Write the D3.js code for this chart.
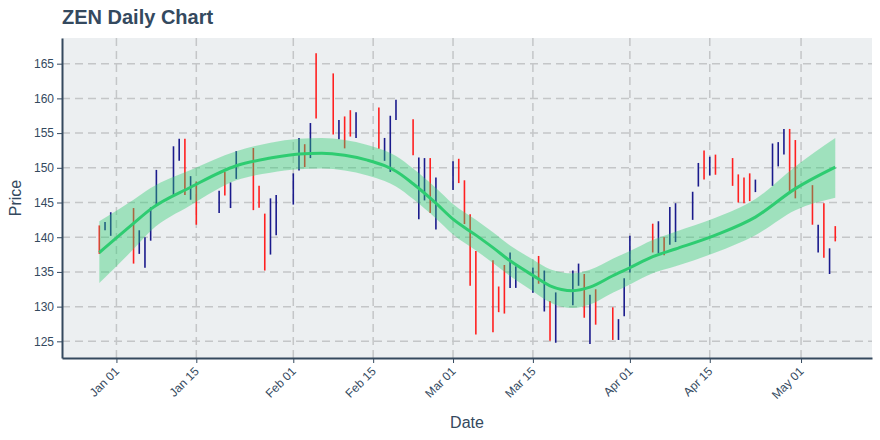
<!DOCTYPE html>
<html>
<head>
<meta charset="utf-8">
<script src="https://cdn.jsdelivr.net/npm/d3@7"></script>
<style>
  html, body { margin: 0; padding: 0; background: #ffffff; }
  svg { display: block; }
  text { font-family: "Liberation Sans", Arial, sans-serif; }
</style>
</head>
<body>
<svg id="chart" width="880" height="440"></svg>
<script>
// ---------- DATA ----------
const dates = [
  "2020-12-29","2020-12-30","2020-12-31",
  "2021-01-04","2021-01-05","2021-01-06","2021-01-07","2021-01-08",
  "2021-01-11","2021-01-12","2021-01-13","2021-01-14","2021-01-15",
  "2021-01-19","2021-01-20","2021-01-21","2021-01-22",
  "2021-01-25","2021-01-26","2021-01-27","2021-01-28","2021-01-29",
  "2021-02-01","2021-02-02","2021-02-03","2021-02-04","2021-02-05",
  "2021-02-08","2021-02-09","2021-02-10","2021-02-11","2021-02-12",
  "2021-02-16","2021-02-17","2021-02-18","2021-02-19",
  "2021-02-22","2021-02-23","2021-02-24","2021-02-25","2021-02-26",
  "2021-03-01","2021-03-02","2021-03-03","2021-03-04","2021-03-05",
  "2021-03-08","2021-03-09","2021-03-10","2021-03-11","2021-03-12",
  "2021-03-15","2021-03-16","2021-03-17","2021-03-18","2021-03-19",
  "2021-03-22","2021-03-23","2021-03-24","2021-03-25","2021-03-26",
  "2021-03-29","2021-03-30","2021-03-31","2021-04-01",
  "2021-04-05","2021-04-06","2021-04-07","2021-04-08","2021-04-09",
  "2021-04-12","2021-04-13","2021-04-14","2021-04-15","2021-04-16",
  "2021-04-19","2021-04-20","2021-04-21","2021-04-22","2021-04-23",
  "2021-04-26","2021-04-27","2021-04-28","2021-04-29","2021-04-30",
  "2021-05-03","2021-05-04","2021-05-05","2021-05-06","2021-05-07"
];
const opens = [
  141.7,141.0,140.2,
  144.2,137.6,135.6,139.5,144.5,
  146.1,151.0,154.2,145.4,148.0,
  143.5,149.4,144.2,148.4,
  152.85,147.4,143.4,137.5,140.3,
  144.7,149.6,153.4,151.4,166.5,
  163.6,154.1,157.4,158.3,154.3,
  158.7,151.0,149.4,156.9,
  157.0,142.6,145.3,151.4,141.1,
  146.8,151.3,148.2,143.3,138.0,
  136.7,132.9,136.0,132.7,132.7,
  132.0,137.3,129.3,130.8,124.8,
  130.2,133.0,134.7,124.6,132.5,
  129.9,125.2,128.6,134.9,
  141.95,137.7,140.0,138.9,139.3,
  142.5,147.3,152.5,148.9,151.9,
  151.4,149.05,148.6,149.2,146.5,
  147.4,150.2,151.9,155.6,154.0,
  147.5,137.8,144.9,134.7,141.6
];
const closes = [
  137.6,142.2,143.6,
  136.2,141.0,140.0,144.3,149.7,
  153.1,154.2,146.1,148.8,141.8,
  146.7,146.0,147.9,152.4,
  143.9,144.25,135.2,145.6,146.1,
  149.2,154.3,150.1,156.45,157.1,
  154.8,156.9,152.8,154.5,158.0,
  152.75,154.3,157.5,159.8,
  151.8,151.5,151.4,143.5,148.6,
  150.95,147.8,141.9,133.0,126.0,
  126.3,129.2,129.0,137.8,135.8,
  135.65,133.3,135.2,125.1,132.05,
  135.2,136.2,128.4,131.7,127.4,
  125.2,128.2,134.1,140.2,
  137.8,142.3,137.4,144.35,144.9,
  146.55,150.7,148.3,151.6,149.0,
  147.4,145.0,144.9,145.2,148.3,
  153.5,153.7,155.6,146.6,145.6,
  141.8,141.8,137.05,138.4,139.4
];

// smoothed trend and its band
const trendDates = [
  "2020-12-29","2021-01-04","2021-01-07","2021-01-14","2021-01-22","2021-01-28",
  "2021-02-02","2021-02-06","2021-02-10","2021-02-14","2021-02-17","2021-02-19",
  "2021-02-22","2021-02-26","2021-03-01","2021-03-05","2021-03-08","2021-03-11",
  "2021-03-15","2021-03-18","2021-03-22","2021-03-25","2021-03-29","2021-04-01",
  "2021-04-05","2021-04-09","2021-04-16","2021-04-23","2021-04-30","2021-05-07"
];
const trendMid = [
  137.8,142.0,144.05,147.2,150.3,151.4,
  152.0,152.1,151.8,151.1,150.3,149.5,
  147.7,144.9,142.6,140.3,138.5,136.6,
  134.5,133.0,132.3,132.8,134.45,135.6,
  137.2,138.3,140.3,142.9,147.0,150.1
];
const trendUpper = [
  142.3,145.4,147.1,149.7,152.4,153.6,
  154.2,154.3,154.0,153.3,152.5,151.7,
  149.9,147.1,144.8,142.5,140.7,138.8,
  136.8,135.4,134.8,135.3,136.9,138.0,
  139.6,140.8,142.8,145.5,150.2,154.3
];
const trendLower = [
  133.4,138.3,140.9,144.6,148.2,149.3,
  149.8,149.9,149.6,148.9,148.1,147.3,
  145.5,142.7,140.4,138.1,136.3,134.4,
  132.2,130.6,129.8,130.3,132.0,133.2,
  134.8,135.8,137.8,140.3,143.9,145.7
];

const yTicks = [125,130,135,140,145,150,155,160,165];
const xTickDates = ["2021-01-01","2021-01-15","2021-02-01","2021-02-15","2021-03-01",
                    "2021-03-15","2021-04-01","2021-04-15","2021-05-01"];

const titleText = "ZEN Daily Chart";
const xTitle = "Date";
const yTitle = "Price";

// ---------- DRAW ----------
const parse = d3.utcParse("%Y-%m-%d");
const svg = d3.select("#chart");
const W = 880, H = 440;
const m = { left: 62, right: 8, top: 38, bottom: 82 };
const pw = W - m.left - m.right, ph = H - m.top - m.bottom;
const ink = "#34495e";

const x = d3.scaleUtc()
  .domain([new Date(Date.UTC(2020, 11, 22, 11)), new Date(Date.UTC(2021, 4, 13, 10, 30))])
  .range([m.left, m.left + pw]);
const y = d3.scaleLinear().domain([122.6, 168.7]).range([m.top + ph, m.top]);

// plot background
svg.append("rect").attr("x", m.left).attr("y", m.top)
  .attr("width", pw).attr("height", ph).attr("fill", "#eceff1");

// grid
const grid = svg.append("g");
grid.selectAll(".hg").data(yTicks).join("line")
  .attr("x1", m.left).attr("x2", m.left + pw)
  .attr("y1", d => y(d)).attr("y2", d => y(d))
  .attr("stroke", "#c4c6c8").attr("stroke-width", 1.5).attr("stroke-dasharray", "8,5");
grid.selectAll(".vg").data(xTickDates).join("line")
  .attr("x1", d => x(parse(d))).attr("x2", d => x(parse(d)))
  .attr("y1", m.top).attr("y2", m.top + ph)
  .attr("stroke", "#c4c6c8").attr("stroke-width", 1.5).attr("stroke-dasharray", "8,5");

// bars
const bars = dates.map((d, i) => ({ date: parse(d), open: opens[i], close: closes[i] }));
svg.append("g").selectAll("line").data(bars).join("line")
  .attr("x1", d => x(d.date)).attr("x2", d => x(d.date))
  .attr("y1", d => y(d.open)).attr("y2", d => y(d.close))
  .attr("stroke", d => d.close >= d.open ? "#1a1a8c" : "#ff2020")
  .attr("stroke-width", 1.6);

// trend band + line
const trend = trendDates.map((d, i) => ({ date: parse(d), mid: trendMid[i], up: trendUpper[i], lo: trendLower[i] }));
svg.append("path").datum(trend)
  .attr("d", d3.area().x(d => x(d.date)).y0(d => y(d.lo)).y1(d => y(d.up)).curve(d3.curveMonotoneX))
  .attr("fill", "#2ecc71").attr("fill-opacity", 0.4);
svg.append("path").datum(trend)
  .attr("d", d3.line().x(d => x(d.date)).y(d => y(d.mid)).curve(d3.curveMonotoneX))
  .attr("fill", "none").attr("stroke", "#2ecc71").attr("stroke-width", 3);

// axes
const xAxis = d3.axisBottom(x).tickValues(xTickDates.map(parse))
  .tickFormat(d3.utcFormat("%b %d")).tickSize(5).tickSizeOuter(0);
const gx = svg.append("g").attr("transform", `translate(0,${m.top + ph})`).call(xAxis);
gx.select(".domain").attr("stroke", ink).attr("stroke-width", 2);
gx.selectAll(".tick line").attr("stroke", ink);
gx.selectAll(".tick text")
  .attr("fill", ink).attr("font-size", 12)
  .attr("text-anchor", "end")
  .attr("x", 0).attr("y", 0).attr("dy", 0).attr("dx", 0)
  .attr("transform", "translate(3,14) rotate(-45)");

const yAxis = d3.axisLeft(y).tickValues(yTicks).tickSize(5).tickSizeOuter(0).tickPadding(3);
const gy = svg.append("g").attr("transform", `translate(${m.left},0)`).call(yAxis);
gy.select(".domain").attr("stroke", ink).attr("stroke-width", 2);
gy.selectAll(".tick line").attr("stroke", ink);
gy.selectAll(".tick text").attr("fill", ink).attr("font-size", 12);

// titles
svg.append("text").attr("x", 62).attr("y", 24)
  .attr("font-size", 20).attr("font-weight", "bold").attr("fill", ink).text(titleText);
svg.append("text").attr("x", m.left + pw / 2).attr("y", 428)
  .attr("text-anchor", "middle").attr("font-size", 16).attr("fill", ink).text(xTitle);
svg.append("text").attr("transform", `translate(21,${m.top + ph / 2}) rotate(-90)`)
  .attr("text-anchor", "middle").attr("font-size", 16).attr("fill", ink).text(yTitle);
</script>
</body>
</html>
